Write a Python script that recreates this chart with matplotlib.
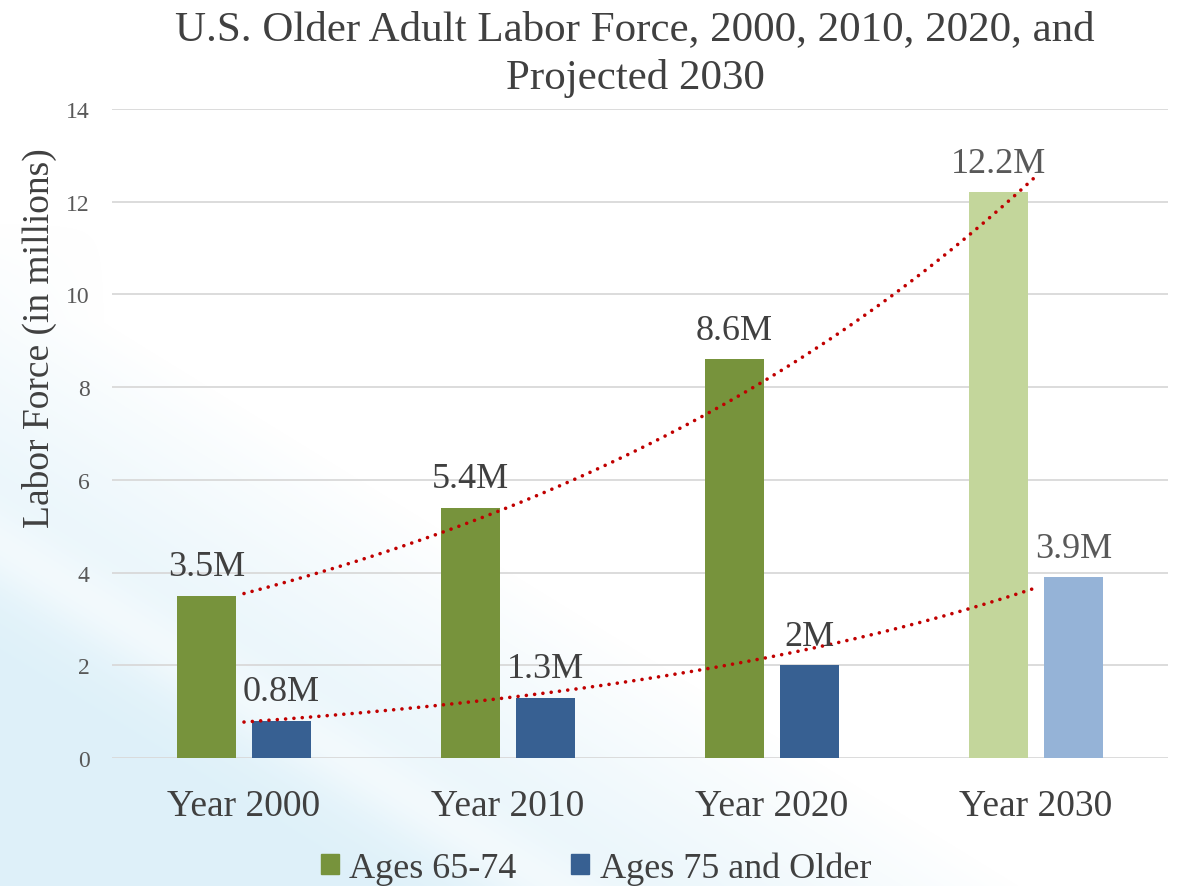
import numpy as np
import matplotlib
matplotlib.use("Agg")
import matplotlib.pyplot as plt
from matplotlib.patches import Patch

categories = ["Year 2000", "Year 2010", "Year 2020", "Year 2030"]
ages_65_74 = [3.5, 5.4, 8.6, 12.2]
ages_75_plus = [0.8, 1.3, 2.0, 3.9]
labels_65_74 = ["3.5M", "5.4M", "8.6M", "12.2M"]
labels_75_plus = ["0.8M", "1.3M", "2M", "3.9M"]
yticks = [0, 2, 4, 6, 8, 10, 12, 14]
series_names = ["Ages 65-74", "Ages 75 and Older"]
title = "U.S. Older Adult Labor Force, 2000, 2010, 2020, and\nProjected 2030"
ylabel = "Labor Force (in millions)"

green, blue = "#77933C", "#376092"
green_light, blue_light = "#C3D69B", "#95B3D7"
trend_color = "#C00000"

plt.rcParams['font.family'] = ['Liberation Serif', 'DejaVu Serif']

W, H = 1178, 887
fig = plt.figure(figsize=(W / 100, H / 100), dpi=100)
fig.patch.set_facecolor("white")

# decorative background wash (lower-left light blue)
bg = fig.add_axes([0, 0, 1, 1], zorder=-10)
yy, xx = np.mgrid[0:H, 0:W]
u = xx / W
v = 1 - yy / H
t = u * 0.9 + v * 1.1
alpha = np.clip((0.78 - t) / 0.5, 0, 1) ** 0.9 * 0.85
left = np.clip((0.09 - u) / 0.09, 0, 1) * np.clip((0.75 - v) / 0.4, 0, 1) * 0.6
alpha = np.maximum(alpha, left)
streak = 0.3 * np.exp(-((u * 0.9 + v * 1.1 - 0.42) / 0.05) ** 2)
alpha = np.clip(alpha - streak, 0, 1)
img = np.zeros((H, W, 4))
img[..., 0] = 0.85
img[..., 1] = 0.935
img[..., 2] = 0.975
img[..., 3] = alpha
bg.imshow(img, aspect="auto", extent=[0, 1, 0, 1], origin="upper")
bg.set_xlim(0, 1); bg.set_ylim(0, 1)
bg.axis("off")

ax = fig.add_axes([112 / W, 1 - 759 / H, 1056 / W, 649 / H])
ax.set_facecolor("none")

x = np.arange(len(categories))
bw = 0.227
off = 0.142
gcols = [green, green, green, green_light]
bcols = [blue, blue, blue, blue_light]
b1 = ax.bar(x - off, ages_65_74, bw, color=gcols, zorder=3)
b2 = ax.bar(x + off, ages_75_plus, bw, color=bcols, zorder=3)

for i, (r, lab) in enumerate(zip(b1, labels_65_74)):
    ax.annotate(lab, (r.get_x() + r.get_width() / 2, r.get_height()),
                xytext=(0, 9), textcoords="offset points", ha="center", va="bottom",
                fontsize=26, color="#404040" if i < 3 else "#595959", zorder=5)
for i, (r, lab) in enumerate(zip(b2, labels_75_plus)):
    ax.annotate(lab, (r.get_x() + r.get_width() / 2, r.get_height()),
                xytext=(0, 9), textcoords="offset points", ha="center", va="bottom",
                fontsize=26, color="#404040" if i < 3 else "#595959", zorder=5)

# exponential trendlines (Excel style, x = 1..n)
xs = np.linspace(0, len(categories) - 1, 300)
for series in (ages_65_74, ages_75_plus):
    k, c = np.polyfit(x + 1, np.log(series), 1)
    ax.plot(xs, np.exp(c + k * (xs + 1)), color=trend_color, lw=2.6,
            linestyle=(0, (0.01, 2.3)), dash_capstyle="round", zorder=4)

ax.set_xlim(-0.5, len(categories) - 0.5)
ax.set_ylim(0, 14)
ax.set_yticks(yticks)
ax.set_yticklabels([str(t) for t in yticks], fontsize=17, color="#595959")
ax.set_xticks(x)
ax.set_xticklabels(categories, fontsize=27, color="#404040")
ax.tick_params(axis="y", length=0, pad=16)
ax.tick_params(axis="x", length=0, pad=22)
ax.grid(axis="y", color="#D9D9D9", lw=1.3, zorder=0)
for s in ax.spines.values():
    s.set_visible(False)

ax.set_ylabel(ylabel, fontsize=27, color="#404040")
ax.yaxis.set_label_coords(-0.052, 0.649)

fig.text(635 / W, 1 - 11 / H, title, ha="center", va="top", fontsize=31,
         color="#404040", linespacing=1.3)

handles = [Patch(color=green), Patch(color=blue)]
fig.legend(handles, series_names, loc="center", bbox_to_anchor=(596 / W, 1 - 869 / H),
           ncol=2, frameon=False, fontsize=26, handlelength=0.5, handleheight=0.5,
           handletextpad=0.3, columnspacing=1.5, labelcolor="#404040")

fig.savefig("out.png", dpi=100)
